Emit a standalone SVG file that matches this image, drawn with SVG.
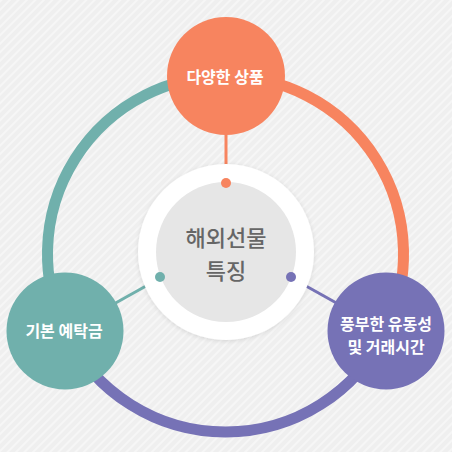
<svg xmlns="http://www.w3.org/2000/svg" width="452" height="452" viewBox="0 0 452 452">
<defs>
<pattern id="stripes" width="6" height="6" patternUnits="userSpaceOnUse" patternTransform="rotate(45)">
<rect width="6" height="6" fill="#efefef"/>
<rect width="2" height="6" fill="#f6f6f6"/>
</pattern>
<filter id="sh" x="-20%" y="-20%" width="140%" height="140%">
<feDropShadow dx="0" dy="1" stdDeviation="2" flood-color="#000" flood-opacity="0.12"/>
</filter>
<style>
.arc{fill:none;stroke-width:11}
.lnk{stroke-width:3}
.nt{font-family:"Noto Sans CJK KR","Noto Sans",sans-serif;font-size:16px;font-weight:bold;fill:#fff;text-anchor:middle}
.ct{font-family:"Noto Sans CJK KR","Noto Sans",sans-serif;font-size:22px;font-weight:500;fill:#666;text-anchor:middle}
</style>
</defs>
<rect width="452" height="452" fill="url(#stripes)"/>
<g id="connectors">
<path class="arc" d="M226 76 A178 178 0 0 1 386 331" stroke="#f7845f"/>
<path class="arc" d="M65 331 A178 178 0 0 1 226 76" stroke="#70b0ac"/>
<path class="arc" d="M386 331 A178 178 0 0 1 65 331" stroke="#7672b6"/>
<line class="lnk" x1="226" y1="130" x2="226" y2="168" stroke="#f7845f"/>
<line class="lnk" x1="112" y1="305" x2="146" y2="286" stroke="#70b0ac"/>
<line class="lnk" x1="306" y1="286" x2="340" y2="305" stroke="#7672b6"/>
</g>
<g id="center">
<circle cx="226" cy="252" r="88" fill="#fff" filter="url(#sh)"/>
<circle cx="226" cy="252" r="70" fill="#e6e6e6"/>
<circle cx="226" cy="183" r="5" fill="#f7845f"/>
<circle cx="160" cy="277" r="5" fill="#70b0ac"/>
<circle cx="291" cy="277" r="5" fill="#7672b6"/>
<text class="ct" x="226" y="246">해외선물</text>
<text class="ct" x="226" y="279">특징</text>
</g>
<g id="node-top">
<circle cx="226" cy="76" r="59" fill="#f7845f"/>
<text class="nt" x="225" y="83">다양한 상품</text>
</g>
<g id="node-left">
<circle cx="65" cy="331" r="58.5" fill="#70b0ac"/>
<text class="nt" x="64" y="337">기본 예탁금</text>
</g>
<g id="node-right">
<circle cx="386" cy="331" r="58.5" fill="#7672b6"/>
<text class="nt" x="386" y="329.5">풍부한 유동성</text>
<text class="nt" x="386" y="353">및 거래시간</text>
</g>
</svg>
